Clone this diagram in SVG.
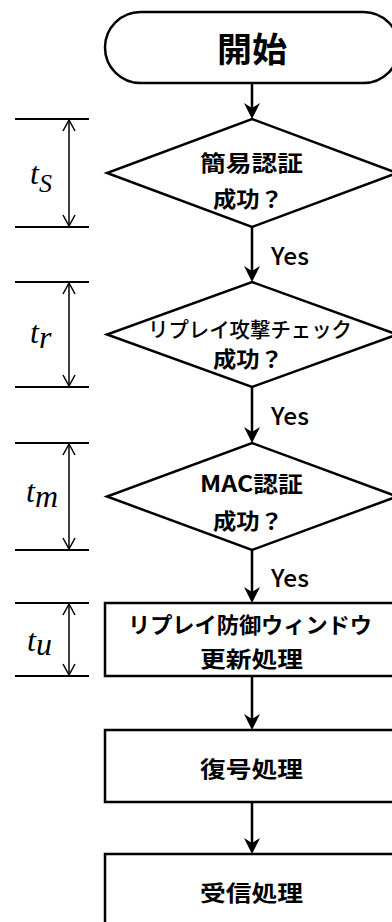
<svg xmlns="http://www.w3.org/2000/svg" width="392" height="922" viewBox="0 0 392 922">
<style>
.sh{fill:#fff;stroke:#000;stroke-width:2.5}
.jp{font-family:"Noto Sans CJK JP","Noto Sans",sans-serif;font-weight:bold;fill:#000;text-anchor:middle}
.yes{font-family:"Noto Sans CJK JP","Noto Sans",sans-serif;font-size:24px;font-weight:500;fill:#000}
.flow{stroke:#000;stroke-width:2.5;fill:none}
.dim{stroke:#000;stroke-width:2;fill:none}
.dimv{stroke:#000;stroke-width:1.5;fill:none}
.tl{font-family:"Liberation Serif","Times New Roman",serif;font-style:italic;fill:#000}
</style>
<defs>
<marker id="ah" markerUnits="userSpaceOnUse" markerWidth="24" markerHeight="24" viewBox="-20 -12 24 24" refX="-6" refY="0" orient="auto">
<path d="M0,0 L-16,-8 L-11,0 L-16,8 Z" fill="#000"/>
</marker>
<marker id="dh" markerUnits="userSpaceOnUse" markerWidth="20" markerHeight="20" viewBox="-14 -10 16 20" refX="0" refY="0" orient="auto-start-reverse">
<path d="M-11,-6 L0,0 L-11,6" fill="none" stroke="#000" stroke-width="1.5"/>
</marker>
</defs>

<g id="connectors">
<line class="flow" x1="252" y1="83" x2="252" y2="113" marker-end="url(#ah)"/>
<line class="flow" x1="252" y1="227" x2="252" y2="276" marker-end="url(#ah)"/>
<line class="flow" x1="252" y1="387" x2="252" y2="437" marker-end="url(#ah)"/>
<line class="flow" x1="252" y1="550" x2="252" y2="597" marker-end="url(#ah)"/>
<line class="flow" x1="252" y1="676" x2="252" y2="724" marker-end="url(#ah)"/>
<line class="flow" x1="252" y1="802" x2="252" y2="848" marker-end="url(#ah)"/>
<text class="yes" x="271" y="265" textLength="38" lengthAdjust="spacingAndGlyphs">Yes</text>
<text class="yes" x="271" y="425" textLength="38" lengthAdjust="spacingAndGlyphs">Yes</text>
<text class="yes" x="271" y="587" textLength="38" lengthAdjust="spacingAndGlyphs">Yes</text>
</g>

<g id="start">
<rect class="sh" x="105" y="12" width="294" height="71" rx="35.5" ry="35.5"/>
<text class="jp" x="252" y="62" font-size="34" textLength="70" lengthAdjust="spacingAndGlyphs">開始</text>
</g>

<g id="d1">
<polygon class="sh" points="252,119 397,173 252,227 107,173"/>
<text class="jp" x="251.5" y="171" font-size="22" textLength="103" lengthAdjust="spacingAndGlyphs">簡易認証</text>
<text class="jp" x="248" y="207" font-size="22" textLength="70" lengthAdjust="spacingAndGlyphs">成功？</text>
</g>

<g id="d2">
<polygon class="sh" points="252,282 397,334.5 252,387 107,334.5"/>
<text class="jp" x="250" y="337" font-size="21" style="font-weight:500" textLength="204" lengthAdjust="spacingAndGlyphs">リプレイ攻撃チェック</text>
<text class="jp" x="248" y="367" font-size="22" textLength="70" lengthAdjust="spacingAndGlyphs">成功？</text>
</g>

<g id="d3">
<polygon class="sh" points="252,443 397,496.5 252,550 107,496.5"/>
<text class="jp" x="251.5" y="492" font-size="22" textLength="103" lengthAdjust="spacingAndGlyphs">MAC認証</text>
<text class="jp" x="248" y="529" font-size="22" textLength="70" lengthAdjust="spacingAndGlyphs">成功？</text>
</g>

<g id="b1">
<rect class="sh" x="105" y="603" width="294" height="73"/>
<text class="jp" x="250" y="633" font-size="22" textLength="244" lengthAdjust="spacingAndGlyphs">リプレイ防御ウィンドウ</text>
<text class="jp" x="251.5" y="667" font-size="22" textLength="103" lengthAdjust="spacingAndGlyphs">更新処理</text>
</g>

<g id="b2">
<rect class="sh" x="105" y="730" width="294" height="72"/>
<text class="jp" x="251.5" y="777" font-size="22" textLength="103" lengthAdjust="spacingAndGlyphs">復号処理</text>
</g>

<g id="b3">
<rect class="sh" x="105" y="854" width="294" height="100"/>
<text class="jp" x="251.5" y="901" font-size="22" textLength="103" lengthAdjust="spacingAndGlyphs">受信処理</text>
</g>

<g id="dim-ts">
<line class="dim" x1="15" y1="119" x2="89" y2="119"/>
<line class="dim" x1="15" y1="227" x2="89" y2="227"/>
<line class="dimv" x1="69" y1="120" x2="69" y2="226" marker-start="url(#dh)" marker-end="url(#dh)"/>
<text class="tl" x="30" y="184" font-size="32">t<tspan font-size="26" dy="8">S</tspan></text>
</g>

<g id="dim-tr">
<line class="dim" x1="15" y1="282" x2="89" y2="282"/>
<line class="dim" x1="15" y1="387" x2="89" y2="387"/>
<line class="dimv" x1="69" y1="283" x2="69" y2="386" marker-start="url(#dh)" marker-end="url(#dh)"/>
<text class="tl" x="30" y="343" font-size="32">t<tspan font-size="32" dy="5">r</tspan></text>
</g>

<g id="dim-tm">
<line class="dim" x1="15" y1="443" x2="89" y2="443"/>
<line class="dim" x1="15" y1="550" x2="89" y2="550"/>
<line class="dimv" x1="69" y1="444" x2="69" y2="549" marker-start="url(#dh)" marker-end="url(#dh)"/>
<text class="tl" x="26" y="502" font-size="32">t<tspan font-size="32" dy="5">m</tspan></text>
</g>

<g id="dim-tu">
<line class="dim" x1="15" y1="603" x2="89" y2="603"/>
<line class="dim" x1="15" y1="676" x2="89" y2="676"/>
<line class="dimv" x1="69" y1="604" x2="69" y2="675" marker-start="url(#dh)" marker-end="url(#dh)"/>
<text class="tl" x="27" y="651" font-size="32">t<tspan font-size="32" dy="4">u</tspan></text>
</g>
</svg>
